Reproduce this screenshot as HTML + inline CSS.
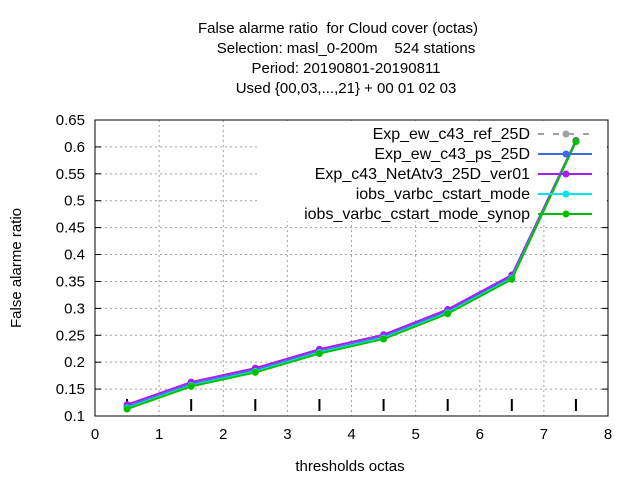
<!DOCTYPE html>
<html><head><meta charset="utf-8"><style>
body{margin:0;background:#fff;}
svg{display:block;font-family:"Liberation Sans",sans-serif;}
text{white-space:pre;}
</style></head><body>
<svg id="c" width="640" height="480">
<g font-size="15" text-anchor="middle">
<text x="338" y="33">False alarme ratio  for Cloud cover (octas)</text>
<text x="346" y="53">Selection: masl_0-200m    524 stations</text>
<text x="346" y="73">Period: 20190801-20190811</text>
<text x="346" y="93">Used {00,03,...,21} + 00 01 02 03</text>
</g>
<g id="grid"></g><g id="axes"></g><g id="legendbg"></g><g id="series"></g><g id="legend"></g>
<text x="350" y="471" font-size="15" text-anchor="middle">thresholds octas</text>
<text x="0" y="0" font-size="15" text-anchor="middle" transform="translate(21,268) rotate(-90)">False alarme ratio</text>
</svg>
<script>
const names=["Exp_ew_c43_ref_25D","Exp_ew_c43_ps_25D","Exp_c43_NetAtv3_25D_ver01","iobs_varbc_cstart_mode","iobs_varbc_cstart_mode_synop"];
const colors=["#a0a0a0","#4169e1","#a020f0","#00e5ee","#00c000"];
const xs=[0.5,1.5,2.5,3.5,4.5,5.5,6.5,7.5];
const s0=[0.117,0.159,0.185,0.220,0.247,0.294,0.358,0.611];
const s1=[0.117,0.159,0.185,0.220,0.247,0.294,0.358,0.611];
const s2=[0.121,0.163,0.189,0.224,0.251,0.298,0.362,0.612];
const s3=[0.115,0.157,0.183,0.218,0.245,0.292,0.356,0.610];
const s4=[0.113,0.155,0.181,0.216,0.243,0.290,0.354,0.610];
const series=[s0,s1,s2,s3,s4];
const xticks=[0,1,2,3,4,5,6,7,8];
const yticks=[0.1,0.15,0.2,0.25,0.3,0.35,0.4,0.45,0.5,0.55,0.6,0.65];
const L=95,R=608,T=120,B=416;
const X=v=>L+(v-0)/8*(R-L), Y=v=>B-(v-0.1)/0.55*(B-T);
const NS="http://www.w3.org/2000/svg";
function mk(p,t,a){const e=document.createElementNS(NS,t);for(const k in a)e.setAttribute(k,a[k]);p.appendChild(e);return e;}
const grid=document.getElementById('grid'),axes=document.getElementById('axes');
xticks.forEach(t=>{
 if(t>0&&t<8){const g=mk(grid,'line',{x1:X(t),x2:X(t),y1:T,y2:B,stroke:'#a0a0a0','stroke-dasharray':'2,3'});
 
 }
 const l=mk(axes,'text',{x:X(t),y:B+23,'font-size':15,'text-anchor':'middle'});l.textContent=t;
 
 
});
yticks.forEach(t=>{
 if(t>0.11&&t<0.64){const g=mk(grid,'line',{x1:L,x2:R,y1:Y(t),y2:Y(t),stroke:'#a0a0a0','stroke-dasharray':'2,3'});
 
 }
 mk(axes,'line',{x1:L,x2:L+6,y1:Y(t),y2:Y(t),stroke:'#000'});
 mk(axes,'line',{x1:R,x2:R-6,y1:Y(t),y2:Y(t),stroke:'#000'});
 const l=mk(axes,'text',{x:L-10,y:Y(t)+5,'font-size':15,'text-anchor':'end'});l.textContent=String(t);
 
 
});
xs.forEach(v=>{const m=mk(axes,'line',{x1:X(v),x2:X(v),y1:B-17,y2:B-5,stroke:'#000','stroke-width':2});
 
 });
const box=mk(axes,'rect',{x:L,y:T,width:R-L,height:B-T,fill:'none',stroke:'#000'});


const lb=mk(document.getElementById('legendbg'),'rect',{x:257,y:121,width:350,height:100,fill:'#fff'});


const sg=document.getElementById('series'),lg=document.getElementById('legend');
series.forEach((s,i)=>{
 const pts=s.map((v,j)=>X(xs[j])+','+Y(v)).join(' ');
 const pl=mk(sg,'polyline',{points:pts,fill:'none',stroke:colors[i],'stroke-width':2,'stroke-dasharray':i==0?'6,6':'none'});
 
 
 s.forEach((v,j)=>{const p=mk(sg,'circle',{cx:X(xs[j]),cy:Y(v),r:3.5,fill:colors[i]});
  
  });
 const y=134+i*20;
 const g=mk(lg,'g',{});
 
 
 const t=mk(g,'text',{x:530,y:y+5,'font-size':16,'text-anchor':'end'});t.textContent=names[i];
 mk(g,'line',{x1:538,x2:592,y1:y,y2:y,stroke:colors[i],'stroke-width':2,'stroke-dasharray':i==0?'6,9':'none'});
 mk(g,'circle',{cx:566,cy:y,r:3.5,fill:colors[i]});
});
</script>
</body></html>
